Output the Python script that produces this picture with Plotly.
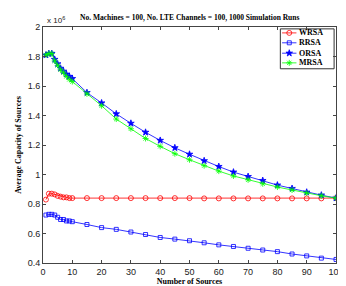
import plotly.graph_objects as go

x = [1, 2, 3, 4, 5, 6, 7, 8, 9, 10, 15, 20, 25, 30, 35, 40, 45, 50, 55, 60, 65, 70, 75, 80, 85, 90, 95, 100]

wrsa = [0.83, 0.87, 0.87, 0.865, 0.855, 0.85, 0.845, 0.845, 0.84, 0.84, 0.84, 0.84, 0.84, 0.84, 0.84, 0.84,
        0.84, 0.84, 0.838, 0.838, 0.838, 0.838, 0.838, 0.838, 0.838, 0.838, 0.838, 0.84]
rrsa = [0.725, 0.73, 0.73, 0.725, 0.71, 0.695, 0.695, 0.685, 0.685, 0.68, 0.661, 0.64, 0.628, 0.61, 0.593,
        0.573, 0.562, 0.551, 0.537, 0.523, 0.512, 0.50, 0.488, 0.477, 0.461, 0.448, 0.433, 0.424]
orsa = [1.81, 1.82, 1.82, 1.78, 1.75, 1.72, 1.70, 1.68, 1.665, 1.65, 1.555, 1.485, 1.411, 1.347, 1.286,
        1.231, 1.181, 1.137, 1.093, 1.054, 1.016, 0.986, 0.959, 0.928, 0.905, 0.88, 0.86, 0.84]
mrsa = [1.81, 1.82, 1.82, 1.77, 1.74, 1.71, 1.69, 1.665, 1.645, 1.63, 1.547, 1.466, 1.376, 1.31, 1.244,
        1.191, 1.141, 1.10, 1.06, 1.023, 0.99, 0.964, 0.937, 0.915, 0.895, 0.874, 0.856, 0.84]

scale = 1e6
xticks = [0, 10, 20, 30, 40, 50, 60, 70, 80, 90, 100]
yticks = [0.4, 0.6, 0.8, 1, 1.2, 1.4, 1.6, 1.8, 2]
ytick_text = ["0.4", "0.6", "0.8", "1", "1.2", "1.4", "1.6", "1.8", "2"]
names = ["WRSA", "RRSA", "ORSA", "MRSA"]

styles = [
    ("#ff0000", "circle-open", 5),
    ("#0000ff", "square-open", 4),
    ("#0000ff", "star", 5),
    ("#00ff00", "asterisk-open", 5),
]
data = [wrsa, rrsa, orsa, mrsa]

fig = go.Figure()
for name, vals, (col, sym, sz) in zip(names, data, styles):
    fig.add_trace(go.Scatter(
        x=x, y=[v * scale for v in vals], name=name, mode="lines+markers",
        line=dict(color=col, width=0.8),
        marker=dict(symbol=sym, size=sz, color=col, line=dict(color=col, width=0.8)),
        showlegend=False,
    ))

# compact legend (MATLAB-style) drawn on an overlay axis spanning the plot area
leg_x0, leg_x1, leg_y0, leg_y1 = 0.81, 0.9935, 0.823, 0.992
leg_rows = [0.975, 0.933, 0.889, 0.848]
line_a, line_b, text_x = 0.816, 0.865, 0.868
for name, yy, (col, sym, sz) in zip(names, leg_rows, styles):
    fig.add_trace(go.Scatter(
        x=[line_a, (line_a + line_b) / 2, line_b], y=[yy, yy, yy], xaxis="x2", yaxis="y2",
        mode="lines", line=dict(color=col, width=0.8), showlegend=False, hoverinfo="skip"))
    fig.add_trace(go.Scatter(
        x=[(line_a + line_b) / 2], y=[yy], xaxis="x2", yaxis="y2", mode="markers",
        marker=dict(symbol=sym, size=sz, color=col, line=dict(color=col, width=0.8)),
        showlegend=False, hoverinfo="skip"))

axis_font = dict(family="Liberation Sans", size=9, color="#222")
annotations = [
    dict(text="<b>No. Machines = 100, No. LTE Channels = 100, 1000 Simulation Runs</b>",
         x=0.5, y=1, xref="paper", yref="paper", xanchor="center", yanchor="bottom", yshift=3,
         showarrow=False, font=dict(family="Liberation Serif", size=7.5, color="black")),
    dict(text="x 10<sup>6</sup>", x=0, y=1, xref="paper", yref="paper",
         xanchor="left", yanchor="bottom", xshift=2, yshift=0,
         showarrow=False, font=dict(family="Liberation Sans", size=8, color="#222")),
]
for name, yy in zip(names, leg_rows):
    annotations.append(dict(text="<b>%s</b>" % name, x=text_x, y=yy, xref="paper", yref="paper",
                            xanchor="left", yanchor="middle", showarrow=False,
                            font=dict(family="Liberation Serif", size=8, color="black")))

fig.update_layout(
    width=346, height=286,
    margin=dict(l=26, r=10, t=19, b=24),
    paper_bgcolor="white", plot_bgcolor="white",
    showlegend=False,
    xaxis=dict(range=[0, 100], tickvals=xticks, ticks="inside", ticklen=3,
               showline=True, linecolor="#444", linewidth=1, mirror="ticks",
               showgrid=False, zeroline=False, tickfont=axis_font,
               title=dict(text="<b>Number of Sources</b>",
                          font=dict(family="Liberation Serif", size=8, color="black"), standoff=2)),
    yaxis=dict(range=[0.4 * scale, 2 * scale], tickvals=[v * scale for v in yticks], ticktext=ytick_text,
               ticks="inside", ticklen=3,
               showline=True, linecolor="#444", linewidth=1, mirror="ticks",
               showgrid=False, zeroline=False, tickfont=axis_font,
               title=dict(text="<b>Average Capacity of Sources</b>",
                          font=dict(family="Liberation Serif", size=8, color="black"), standoff=4)),
    xaxis2=dict(range=[0, 1], overlaying="x", visible=False, fixedrange=True),
    yaxis2=dict(range=[0, 1], overlaying="y", visible=False, fixedrange=True),
    shapes=[dict(type="rect", xref="paper", yref="paper", x0=leg_x0, x1=leg_x1, y0=leg_y0, y1=leg_y1,
                 line=dict(color="#333", width=1), fillcolor="white", layer="below")],
    annotations=annotations,
)

fig.write_html("out.html")
